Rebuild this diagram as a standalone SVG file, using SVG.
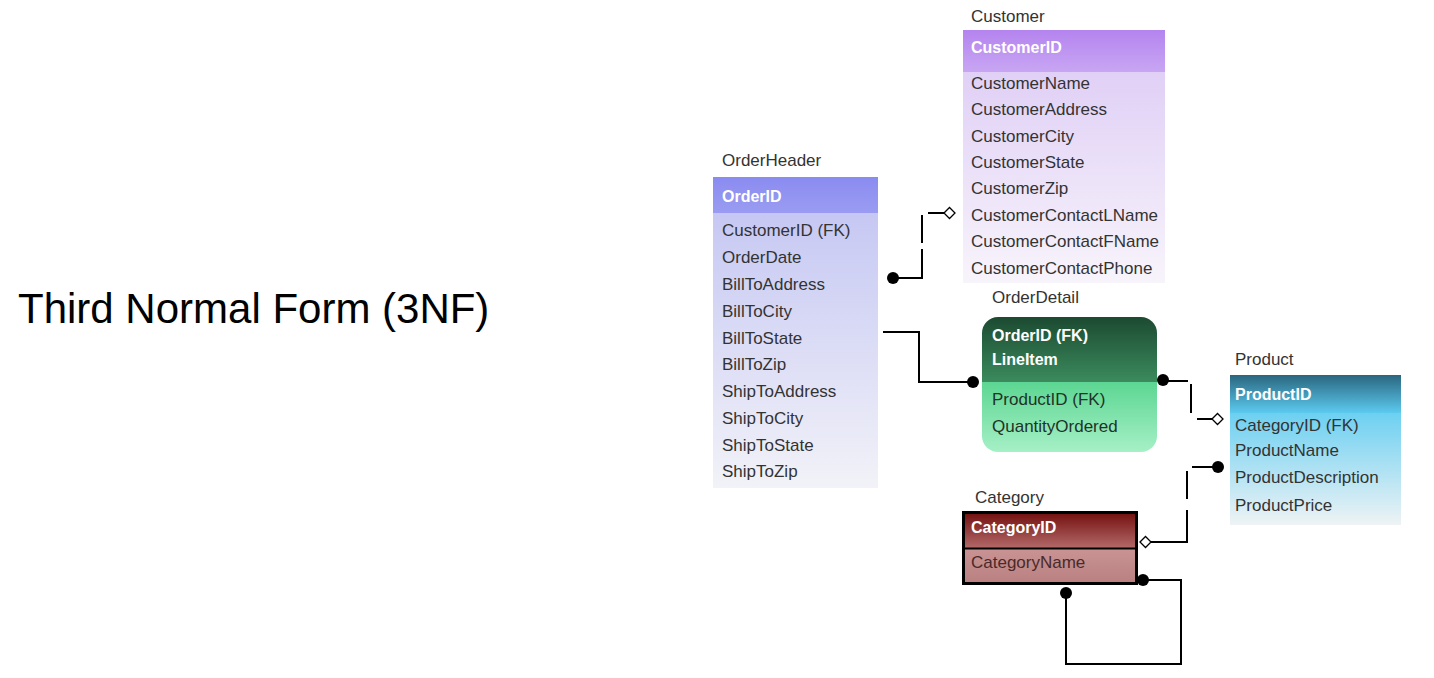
<svg xmlns="http://www.w3.org/2000/svg" width="1434" height="678" viewBox="0 0 1434 678">
<defs>
<style>
.t{font-family:"Liberation Sans",Arial,sans-serif;font-size:17px;fill:#333}
.h{font-family:"Liberation Sans",Arial,sans-serif;font-size:16px;font-weight:bold;fill:#fff}
.lbl{font-family:"Liberation Sans",Arial,sans-serif;font-size:15px;fill:#333}
.ln{fill:none;stroke:#000;stroke-width:2}
.dot{fill:#000}
.dia{fill:#fff;stroke:#000;stroke-width:1.3}
</style>
<linearGradient id="ohH" x1="0" y1="0" x2="0" y2="1"><stop offset="0" stop-color="#8a8bf0"/><stop offset="1" stop-color="#9a9cf2"/></linearGradient>
<linearGradient id="ohB" x1="0" y1="0" x2="0" y2="1"><stop offset="0" stop-color="#c6c8f3"/><stop offset="1" stop-color="#f2f2f8"/></linearGradient>
<linearGradient id="cuH" x1="0" y1="0" x2="0" y2="1"><stop offset="0" stop-color="#b484ef"/><stop offset="1" stop-color="#c8a6f3"/></linearGradient>
<linearGradient id="cuB" x1="0" y1="0" x2="0" y2="1"><stop offset="0" stop-color="#e0d0f6"/><stop offset="1" stop-color="#f8f4fb"/></linearGradient>
<linearGradient id="odH" x1="0" y1="0" x2="0" y2="1"><stop offset="0" stop-color="#1c4a31"/><stop offset="1" stop-color="#3b8b5d"/></linearGradient>
<linearGradient id="odB" x1="0" y1="0" x2="0" y2="1"><stop offset="0" stop-color="#5cd692"/><stop offset="1" stop-color="#a6f0c6"/></linearGradient>
<linearGradient id="prH" x1="0" y1="0" x2="0" y2="1"><stop offset="0" stop-color="#2a6680"/><stop offset="1" stop-color="#5ccaef"/></linearGradient>
<linearGradient id="prB" x1="0" y1="0" x2="0" y2="1"><stop offset="0" stop-color="#6dd0f1"/><stop offset="1" stop-color="#eef3f5"/></linearGradient>
<linearGradient id="caH" x1="0" y1="0" x2="0" y2="1"><stop offset="0" stop-color="#720f0e"/><stop offset="1" stop-color="#b46a6a"/></linearGradient>
<linearGradient id="caB" x1="0" y1="0" x2="0" y2="1"><stop offset="0" stop-color="#c99494"/><stop offset="1" stop-color="#b98080"/></linearGradient>
<clipPath id="odClip"><rect x="982" y="317" width="175" height="135" rx="16" ry="16"/></clipPath>
</defs>
<rect width="1434" height="678" fill="#fff"/>

<text x="18" y="323" font-family="Liberation Sans, Arial, sans-serif" font-size="42" fill="#000">Third Normal Form (3NF)</text>

<g id="connectors">
<!-- OrderHeader - Customer -->
<path class="ln" d="M893,278 H922 V249 M922,243 V215 M928,213 H944"/>
<circle class="dot" cx="893" cy="278" r="6"/>
<path class="dia" d="M944,213 L949.5,207.5 L955,213 L949.5,218.5 Z"/>
<!-- OrderHeader - OrderDetail -->
<path class="ln" d="M883,332 H919 V382 H973"/>
<circle class="dot" cx="973" cy="382" r="6"/>
<!-- OrderDetail - Product -->
<path class="ln" d="M1163,381 H1188 M1191,384 V413 M1197,419 H1212"/>
<circle class="dot" cx="1163" cy="380" r="6"/>
<path class="dia" d="M1212,419 L1217.5,413.5 L1223,419 L1217.5,424.5 Z"/>
<!-- Product - Category -->
<path class="ln" d="M1218,467 H1192 M1187,471 V499 M1187,510 V542 H1151"/>
<circle class="dot" cx="1218" cy="467" r="6"/>
<path class="dia" d="M1140,542 L1145.5,536.5 L1151,542 L1145.5,547.5 Z"/>
<!-- Category self -->
<path class="ln" d="M1143,580 H1181 V664 H1066 V593"/>
<circle class="dot" cx="1143" cy="580" r="6"/>
<circle class="dot" cx="1066" cy="593" r="6"/>
</g>

<g id="OrderHeader">
<text class="t" x="722" y="166">OrderHeader</text>
<rect x="713" y="213" width="165" height="275" fill="url(#ohB)"/>
<rect x="713" y="177" width="165" height="36" fill="url(#ohH)"/>
<text class="h" x="722" y="202">OrderID</text>
<text class="t" x="722" y="236">CustomerID (FK)</text>
<text class="t" x="722" y="263">OrderDate</text>
<text class="t" x="722" y="290">BillToAddress</text>
<text class="t" x="722" y="317">BillToCity</text>
<text class="t" x="722" y="344">BillToState</text>
<text class="t" x="722" y="370">BillToZip</text>
<text class="t" x="722" y="397">ShipToAddress</text>
<text class="t" x="722" y="424">ShipToCity</text>
<text class="t" x="722" y="451">ShipToState</text>
<text class="t" x="722" y="477">ShipToZip</text>
</g>

<g id="Customer">
<text class="t" x="971" y="22">Customer</text>
<rect x="963" y="72" width="202" height="211" fill="url(#cuB)"/>
<rect x="963" y="30" width="202" height="42" fill="url(#cuH)"/>
<text class="h" x="971" y="53">CustomerID</text>
<text class="t" x="971" y="89">CustomerName</text>
<text class="t" x="971" y="115">CustomerAddress</text>
<text class="t" x="971" y="142">CustomerCity</text>
<text class="t" x="971" y="168">CustomerState</text>
<text class="t" x="971" y="194">CustomerZip</text>
<text class="t" x="971" y="221">CustomerContactLName</text>
<text class="t" x="971" y="247">CustomerContactFName</text>
<text class="t" x="971" y="274">CustomerContactPhone</text>
</g>

<g id="OrderDetail">
<text class="t" x="992" y="303">OrderDetail</text>
<g clip-path="url(#odClip)">
<rect x="982" y="382" width="175" height="70" fill="url(#odB)"/>
<rect x="982" y="317" width="175" height="65" fill="url(#odH)"/>
</g>
<text class="h" x="992" y="341">OrderID (FK)</text>
<text class="h" x="992" y="365">LineItem</text>
<text class="t" x="992" y="405" style="fill:#1f3327">ProductID (FK)</text>
<text class="t" x="992" y="432" style="fill:#1f3327">QuantityOrdered</text>
</g>

<g id="Product">
<text class="t" x="1235" y="365">Product</text>
<rect x="1230" y="413" width="171" height="112" fill="url(#prB)"/>
<rect x="1230" y="375" width="171" height="38" fill="url(#prH)"/>
<text class="h" x="1235" y="400">ProductID</text>
<text class="t" x="1235" y="431">CategoryID (FK)</text>
<text class="t" x="1235" y="456">ProductName</text>
<text class="t" x="1235" y="483">ProductDescription</text>
<text class="t" x="1235" y="511">ProductPrice</text>
</g>

<g id="Category">
<text class="t" x="975" y="503">Category</text>
<rect x="963.5" y="512.5" width="173" height="36" fill="url(#caH)"/>
<rect x="963.5" y="548.5" width="173" height="35" fill="url(#caB)"/>
<rect x="963.5" y="512.5" width="173" height="71" fill="none" stroke="#000" stroke-width="3"/>
<line x1="963.5" y1="548.5" x2="1136.5" y2="548.5" stroke="#000" stroke-width="2"/>
<text class="h" x="971" y="533">CategoryID</text>
<text class="t" x="971" y="568" style="fill:#4a2a2a">CategoryName</text>
</g>
</svg>
